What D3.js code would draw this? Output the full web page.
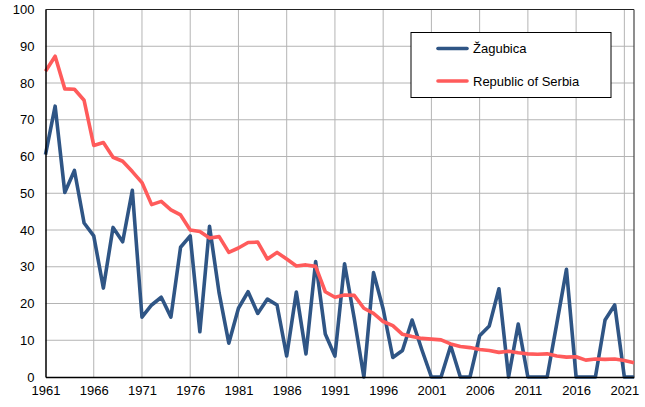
<!DOCTYPE html>
<html>
<head>
<meta charset="utf-8">
<script src="https://cdn.jsdelivr.net/npm/d3@7"></script>
<style>
  body { margin: 0; background: #fff; }
  svg { font-family: "Liberation Sans", Arial, sans-serif; }
</style>
</head>
<body>
<svg id="plotSvg" width="645" height="407"></svg>
<script>
// years 1961..2022
var years = d3.range(1961, 2023);

var zagubica = [
  60.5, 73.7, 50.2, 56.2, 41.9, 38.4, 24.2, 40.7, 36.8, 50.8,
  16.3, 19.6, 21.7, 16.3, 35.3, 38.4, 12.3, 41.0, 22.8, 9.2,
  18.7, 23.2, 17.3, 21.2, 19.6, 5.7, 23.1, 6.3, 31.4, 11.7,
  5.7, 30.8, 16.0, 0, 28.4, 18.5, 5.3, 7.2, 15.5, 7.5,
  0, 0, 8.5, 0, 0, 11.2, 13.9, 24.0, 0, 14.4,
  0, 0, 0, 14.6, 29.3, 0, 0, 0, 15.5, 19.6,
  0, 0
];

var serbia = [
  83.2, 87.3, 78.4, 78.3, 75.3, 63.0, 63.8, 59.8, 58.7, 55.9,
  52.9, 46.9, 47.8, 45.5, 44.1, 40.0, 39.6, 37.8, 38.2, 33.9,
  35.1, 36.6, 36.7, 32.1, 33.9, 32.1, 30.2, 30.5, 30.1, 23.2,
  21.7, 22.3, 22.2, 18.7, 17.3, 15.1, 14.0, 11.6, 11.0, 10.5,
  10.3, 10.1, 9.0, 8.3, 8.0, 7.5, 7.2, 6.7, 7.0, 6.6,
  6.3, 6.2, 6.3, 5.7, 5.4, 5.5, 4.6, 4.9, 4.8, 4.9,
  4.5, 3.9
];

var xTicks = [1961, 1966, 1971, 1976, 1981, 1986, 1991, 1996, 2001, 2006, 2011, 2016, 2021];
var yTicks = [0, 10, 20, 30, 40, 50, 60, 70, 80, 90, 100];

var seriesNames = ["Žagubica", "Republic of Serbia"];
var colors = ["#2f5585", "#ff5b5b"];

var svg = d3.select("#plotSvg");
var margin = { top: 9.5, right: 11, bottom: 30, left: 45.5 };
var width = 645 - margin.left - margin.right,
  height = 407 - margin.top - margin.bottom;

var g = svg.append("g").attr("transform", "translate(" + margin.left + "," + margin.top + ")");

var x = d3.scaleLinear().domain([1961, 2022]).range([0, width]);
var y = d3.scaleLinear().domain([0, 100]).range([height, 0]);

// grid
g.append("g").selectAll("line")
  .data(yTicks.slice(1))
  .enter().append("line")
  .attr("x1", 0).attr("x2", width)
  .attr("y1", function(d) { return y(d); })
  .attr("y2", function(d) { return y(d); })
  .attr("stroke", "#b4b4b4").attr("stroke-width", 1);

g.append("g").selectAll("line")
  .data(xTicks.slice(1))
  .enter().append("line")
  .attr("y1", 0).attr("y2", height)
  .attr("x1", function(d) { return x(d); })
  .attr("x2", function(d) { return x(d); })
  .attr("stroke", "#b4b4b4").attr("stroke-width", 1);

// border top/right
g.append("line").attr("x1", 0).attr("x2", width).attr("y1", 0).attr("y2", 0)
  .attr("stroke", "#222").attr("stroke-width", 1.2);
g.append("line").attr("x1", width).attr("x2", width).attr("y1", 0).attr("y2", height)
  .attr("stroke", "#444").attr("stroke-width", 1.2);

// lines
var data = [zagubica, serbia];
var line = d3.line()
  .x(function(d, i) { return x(years[i]); })
  .y(function(d) { return y(d); });

g.selectAll("path.series")
  .data(data)
  .enter().append("path")
  .attr("class", "series")
  .attr("d", line)
  .attr("fill", "none")
  .attr("stroke", function(d, i) { return colors[i]; })
  .attr("stroke-width", 3.6)
  .attr("stroke-linejoin", "round");

// axes
var xAxis = d3.axisBottom(x).tickValues(xTicks).tickFormat(d3.format("d")).tickSize(0).tickPadding(9);
var yAxis = d3.axisLeft(y).tickValues(yTicks).tickSize(0).tickPadding(11);

var gx = g.append("g").attr("transform", "translate(0," + height + ")").call(xAxis);
var gy = g.append("g").call(yAxis);

[gx, gy].forEach(function(a) {
  a.select(".domain").attr("stroke", "#000").attr("stroke-width", 1.5);
  a.selectAll("text").attr("font-size", 13).attr("fill", "#000")
    .attr("font-family", "Liberation Sans, Arial, sans-serif");
});

// legend
var legend = g.append("g").attr("transform", "translate(" + (411 - margin.left) + "," + (32.5 - margin.top) + ")");
legend.append("rect")
  .attr("width", 200).attr("height", 65)
  .attr("fill", "#fff").attr("stroke", "#000").attr("stroke-width", 1);

var items = legend.selectAll("g.item")
  .data(seriesNames)
  .enter().append("g")
  .attr("class", "item")
  .attr("transform", function(d, i) { return "translate(0," + (16 + i * 32.5) + ")"; });

items.append("line")
  .attr("x1", 27).attr("x2", 56)
  .attr("stroke", function(d, i) { return colors[i]; })
  .attr("stroke-width", 3.6)
  .attr("stroke-linecap", "round");

items.append("text")
  .attr("x", 62)
  .attr("dy", "0.35em")
  .attr("font-size", 13)
  .text(function(d) { return d; });
</script>
</body>
</html>
